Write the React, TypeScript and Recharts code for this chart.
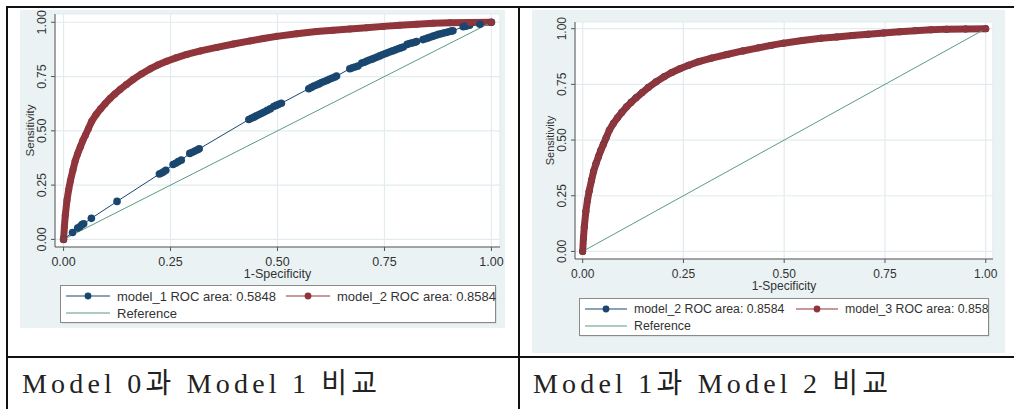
import React from "react"
import { LineChart, Line, XAxis, YAxis, CartesianGrid } from "recharts"

// ROC points
const M1_FPR = [
  0, 0.021, 0.033, 0.038, 0.043, 0.047, 0.065, 0.125,
  0.224, 0.229, 0.234, 0.239,
  0.256, 0.262, 0.268, 0.275,
  0.295, 0.301, 0.307, 0.313, 0.317,
  0.433, 0.439, 0.445, 0.451, 0.457, 0.463, 0.469, 0.476, 0.483,
  0.491, 0.497, 0.503, 0.509,
  0.573, 0.579, 0.585, 0.591, 0.597, 0.603, 0.609, 0.615, 0.621, 0.627, 0.633, 0.638,
  0.669, 0.675, 0.681, 0.688,
  0.697, 0.703, 0.709, 0.715, 0.721, 0.727, 0.733, 0.739, 0.745, 0.751, 0.757, 0.763, 0.769, 0.776, 0.782, 0.788, 0.794,
  0.803, 0.809, 0.815, 0.821, 0.825,
  0.84, 0.846, 0.852, 0.858, 0.864, 0.87, 0.876, 0.882, 0.888, 0.894, 0.9, 0.906, 0.91,
  0.934, 0.941, 0.949, 0.973, 1,
]
const M1_TPR = [
  0, 0.032, 0.052, 0.058, 0.068, 0.072, 0.097, 0.175,
  0.301, 0.306, 0.311, 0.318,
  0.345, 0.351, 0.358, 0.365,
  0.396, 0.401, 0.407, 0.413, 0.417,
  0.552, 0.558, 0.563, 0.569, 0.575, 0.581, 0.587, 0.594, 0.601,
  0.612, 0.617, 0.622, 0.627,
  0.694, 0.7, 0.706, 0.711, 0.716, 0.722, 0.727, 0.732, 0.737, 0.742, 0.747, 0.752,
  0.786, 0.79, 0.794, 0.798,
  0.812, 0.816, 0.821, 0.826, 0.83, 0.835, 0.84, 0.845, 0.85, 0.855, 0.859, 0.864, 0.868, 0.873, 0.878, 0.882, 0.886,
  0.898, 0.902, 0.905, 0.908, 0.911,
  0.92, 0.924, 0.928, 0.932, 0.936, 0.94, 0.944, 0.947, 0.95, 0.953, 0.956, 0.959, 0.961,
  0.979, 0.982, 0.986, 0.991, 1,
]

const M2_FPR = [
  0, 0.002, 0.004, 0.008, 0.012, 0.016, 0.022, 0.027, 0.033, 0.039, 0.045, 0.051, 0.058, 0.066, 0.076,
  0.086, 0.097, 0.109, 0.12, 0.132, 0.147, 0.163, 0.182, 0.202, 0.22, 0.241, 0.263, 0.288, 0.32, 0.358,
  0.397, 0.436, 0.467, 0.498, 0.545, 0.591, 0.63, 0.669, 0.708, 0.747, 0.786, 0.825, 0.864, 0.903, 0.95, 1,
]
const M2_TPR = [
  0, 0.06, 0.11, 0.18, 0.23, 0.27, 0.32, 0.36, 0.395, 0.425, 0.455, 0.48, 0.51, 0.545, 0.575,
  0.6, 0.625, 0.65, 0.67, 0.69, 0.713, 0.737, 0.762, 0.785, 0.803, 0.82, 0.836, 0.852, 0.868, 0.884,
  0.9, 0.914, 0.925, 0.935, 0.947, 0.957, 0.963, 0.969, 0.975, 0.981, 0.986, 0.991, 0.995, 0.998, 0.999, 1,
]
const M3_TPR = [
  0, 0.06, 0.11, 0.18, 0.23, 0.27, 0.319, 0.359, 0.394, 0.424, 0.454, 0.479, 0.509, 0.544, 0.574,
  0.599, 0.624, 0.649, 0.669, 0.689, 0.712, 0.736, 0.761, 0.784, 0.802, 0.82, 0.836, 0.852, 0.868, 0.884,
  0.9, 0.914, 0.925, 0.935, 0.947, 0.957, 0.963, 0.969, 0.975, 0.981, 0.986, 0.991, 0.995, 0.998, 0.999, 1,
]

const REF_X = [0, 1]
const TICKS = [0, 0.25, 0.5, 0.75, 1]
const LEGEND_LEFT = ["model_1 ROC area: 0.5848", "model_2 ROC area: 0.8584", "Reference"]
const LEGEND_RIGHT = ["model_2 ROC area: 0.8584", "model_3 ROC area: 0.858", "Reference"]
const CAPTIONS = ["Model 0과 Model 1 비교", "Model 1과 Model 2 비교"]

const NAVY = "#1a476f"
const MAROON = "#90353b"
const GREEN = "#5a9a86"
const BG = "#eaf2f3"
const AXIS = "#555"
const FONT = "'Liberation Sans', Arial, sans-serif"

const zip = (xs: number[], ys: number[]) => xs.map((x, i) => ({ x, y: ys[i] }))

const model1 = zip(M1_FPR, M1_TPR)
const model2 = zip(M2_FPR, M2_TPR)
const model3 = zip(M2_FPR, M3_TPR)
const reference = zip(REF_X, REF_X)

interface Series {
  data: { x: number; y: number }[]
  color: string
  width: number
  dot: number
}

interface PanelProps {
  left: number
  top: number
  width: number
  height: number
  margin: { top: number; right: number; bottom: number; left: number }
  yWidth: number
  xDomain: [number, number]
  yDomain: [number, number]
  fontSize: number
  series: Series[]
}

function RocPanel(p: PanelProps) {
  const yTick = (props: any) => {
    const { x, y, payload } = props
    return (
      <text x={x} y={y} transform={`rotate(-90 ${x} ${y})`} textAnchor="middle"
        fontSize={p.fontSize} fill="#333" fontFamily={FONT}>
        {Number(payload.value).toFixed(2)}
      </text>
    )
  }
  return (
    <div style={{ position: "absolute", left: p.left, top: p.top, width: p.width, height: p.height, background: BG }}>
      <LineChart width={p.width} height={p.height} margin={p.margin}>
        <CartesianGrid fill="#fff" stroke="#e2ecee" strokeWidth={1.2} />
        <XAxis type="number" dataKey="x" domain={p.xDomain} ticks={TICKS} height={40}
          stroke={AXIS} tickSize={4} tickMargin={6}
          tick={{ fill: "#333", fontSize: p.fontSize, fontFamily: FONT }}
          tickFormatter={(v: number) => v.toFixed(2)}
          label={{
            content: (lp: any) => {
              const vb = lp.viewBox
              return (
                <text x={vb.x + vb.width / 2} y={vb.y + 31} textAnchor="middle"
                  fontSize={p.fontSize} fill="#333" fontFamily={FONT}>1-Specificity</text>
              )
            },
          }} />
        <YAxis type="number" dataKey="y" domain={p.yDomain} ticks={TICKS} width={p.yWidth}
          stroke={AXIS} tickSize={4} tickMargin={4.5} tick={yTick}
          label={{
            content: (lp: any) => {
              const vb = lp.viewBox
              const x = vb.x + vb.width - 21.5
              const y = vb.y + vb.height / 2
              return (
                <text x={x} y={y} transform={`rotate(-90 ${x} ${y})`} textAnchor="middle"
                  fontSize={p.fontSize - 1} fill="#333" fontFamily={FONT}>Sensitivity</text>
              )
            },
          }} />
        {p.series.map((s, i) => (
          <Line key={i} data={s.data} dataKey="y" type="linear" stroke={s.color} strokeWidth={s.width}
            strokeLinecap="round" strokeLinejoin="round"
            dot={s.dot > 0 ? { r: s.dot, fill: s.color, stroke: "none" } : false}
            activeDot={false} isAnimationActive={false} />
        ))}
      </LineChart>
    </div>
  )
}

interface LegendProps {
  left: number
  top: number
  width: number
  fontSize: number
  labels: string[]
  colors: string[]
  keyX: number[]
  keyW: number
  textGap: number
}

function LegendBox(l: LegendProps) {
  const rows = [
    { x: l.keyX[0], y: 11, label: l.labels[0], color: l.colors[0], dot: true },
    { x: l.keyX[1], y: 11, label: l.labels[1], color: l.colors[1], dot: true },
    { x: l.keyX[0], y: 28, label: l.labels[2], color: l.colors[2], dot: false },
  ]
  return (
    <svg style={{ position: "absolute", left: l.left, top: l.top, overflow: "visible" }} width={l.width} height={38}>
      <rect x={1.5} y={1.5} width={l.width - 1} height={37} fill="#c9cfd0" />
      <rect x={0.5} y={0.5} width={l.width - 1} height={37} fill="#fff" stroke="#8a8a8a" />
      {rows.map((r, i) => (
        <g key={i}>
          <line x1={r.x} x2={r.x + l.keyW} y1={r.y} y2={r.y} stroke={r.color} strokeWidth={1.2} />
          {r.dot && <circle cx={r.x + l.keyW / 2} cy={r.y} r={3.4} fill={r.color} />}
          <text x={r.x + l.keyW + l.textGap} y={r.y} dominantBaseline="central"
            fontSize={l.fontSize} fill="#333" fontFamily={FONT}>{r.label}</text>
        </g>
      ))}
    </svg>
  )
}

export default function App() {
  const line = "#111"
  const captionStyle: React.CSSProperties = {
    position: "absolute", top: 361, fontSize: 28, letterSpacing: 4.2, color: "#222",
    fontFamily: "'Liberation Serif', 'Noto Sans CJK KR', serif", whiteSpace: "nowrap",
  }
  return (
    <div style={{ position: "absolute", left: 0, top: 0, width: 1014, height: 409, background: "#fff", overflow: "hidden" }}>
      <RocPanel left={20} top={10} width={485} height={318}
        margin={{ top: 4, right: 5, left: 0, bottom: 41 }} yWidth={35}
        xDomain={[-0.02, 1.02]} yDomain={[-0.035, 1.038]} fontSize={12.5}
        series={[
          { data: model1, color: NAVY, width: 1, dot: 3.8 },
          { data: model2, color: MAROON, width: 7, dot: 3.5 },
          { data: reference, color: GREEN, width: 1, dot: 0 },
        ]} />
      <LegendBox left={60} top={285} width={436} fontSize={13}
        labels={LEGEND_LEFT} colors={[NAVY, MAROON, GREEN]} keyX={[6, 226]} keyW={44} textGap={7} />

      <RocPanel left={532} top={10} width={473} height={343}
        margin={{ top: 12, right: 12, left: 0, bottom: 54 }} yWidth={43}
        xDomain={[-0.019, 1.018]} yDomain={[-0.034, 1.03]} fontSize={12}
        series={[
          { data: model2, color: NAVY, width: 1, dot: 3.4 },
          { data: model3, color: MAROON, width: 7, dot: 3.5 },
          { data: reference, color: GREEN, width: 1, dot: 0 },
        ]} />
      <LegendBox left={579} top={298} width={410} fontSize={12.3}
        labels={LEGEND_RIGHT} colors={[NAVY, MAROON, GREEN]} keyX={[6, 217]} keyW={42} textGap={7} />

      <div style={{ position: "absolute", left: 6, top: 6, width: 1010, height: 2, background: line }} />
      <div style={{ position: "absolute", left: 6, top: 6, width: 2, height: 403, background: line }} />
      <div style={{ position: "absolute", left: 518, top: 6, width: 2, height: 403, background: line }} />
      <div style={{ position: "absolute", left: 6, top: 356, width: 1010, height: 2, background: line }} />

      <div style={{ ...captionStyle, left: 22 }}>{CAPTIONS[0]}</div>
      <div style={{ ...captionStyle, left: 533 }}>{CAPTIONS[1]}</div>
    </div>
  )
}
